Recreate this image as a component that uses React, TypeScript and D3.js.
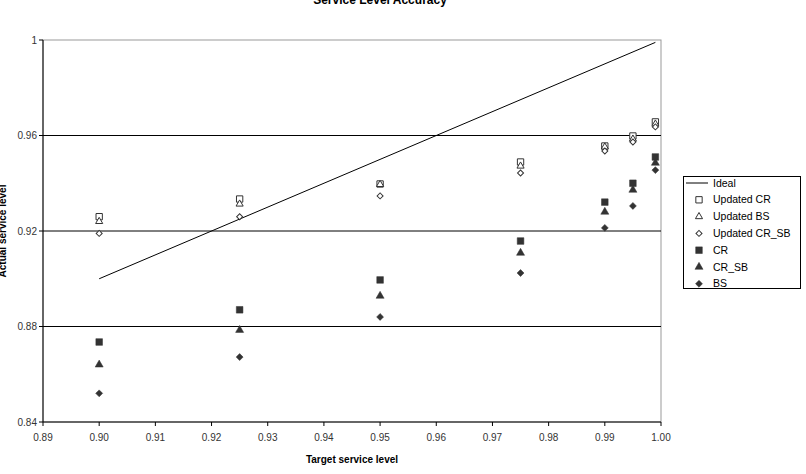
import React from 'react';
import * as d3 from 'd3';

// target service levels (x)
const targets = [0.9, 0.925, 0.95, 0.975, 0.99, 0.995, 0.999];

// actual service levels per method
const updatedCR = [0.926, 0.9334, 0.9397, 0.9489, 0.9556, 0.9598, 0.9657];
const updatedBS = [0.924, 0.9313, 0.9395, 0.9472, 0.9552, 0.9585, 0.9648];
const updatedCRSB = [0.919, 0.926, 0.9347, 0.9443, 0.9535, 0.9573, 0.9636];
const cr = [0.8735, 0.887, 0.8995, 0.9158, 0.9321, 0.94, 0.951];
const crSB = [0.864, 0.8785, 0.8928, 0.9108, 0.928, 0.9372, 0.9485];
const bs = [0.852, 0.8672, 0.884, 0.9024, 0.9213, 0.9305, 0.9455];

const idealX = [0.9, 0.999];

const xTicks = [0.89, 0.9, 0.91, 0.92, 0.93, 0.94, 0.95, 0.96, 0.97, 0.98, 0.99, 1.0];
const yTicks = [0.84, 0.88, 0.92, 0.96, 1];

// diamond = square turned 45 degrees
const series = [
  { name: 'Updated CR', values: updatedCR, shape: d3.symbolSquare, size: 40, rot: 0, filled: false },
  { name: 'Updated BS', values: updatedBS, shape: d3.symbolTriangle, size: 22, rot: 0, filled: false },
  { name: 'Updated CR_SB', values: updatedCRSB, shape: d3.symbolSquare, size: 18, rot: 45, filled: false },
  { name: 'CR', values: cr, shape: d3.symbolSquare, size: 44, rot: 0, filled: true },
  { name: 'CR_SB', values: crSB, shape: d3.symbolTriangle, size: 28, rot: 0, filled: true },
  { name: 'BS', values: bs, shape: d3.symbolSquare, size: 24, rot: 45, filled: true },
];

const W = 806;
const H = 474;
const left = 43;
const right = 661;
const top = 40;
const bottom = 422;
const font = '"Liberation Sans", Arial, sans-serif';
const ink = '#333';

export default function App() {
  const x = d3.scaleLinear().domain([0.89, 1.0]).range([left, right]);
  const y = d3.scaleLinear().domain([0.84, 1.0]).range([bottom, top]);
  const idealLine = d3.line<number>().x(d => x(d)).y(d => y(d));

  const marker = (s: typeof series[number]) => d3.symbol().type(s.shape).size(s.size)() as string;
  const legendRows = ['Ideal', ...series.map(s => s.name)];

  return (
    <svg width={W} height={H} style={{ position: 'absolute', left: 0, top: 0, background: '#fff' }}>
      <text x={380} y={4} textAnchor="middle" fontFamily={font} fontWeight="bold" fontSize={12} fill="#000">
        Service Level Accuracy
      </text>

      {/* plot frame */}
      <rect x={left} y={top} width={right - left} height={bottom - top} fill="none" stroke="#999" strokeWidth={1} />

      {/* gridlines */}
      {yTicks.filter(t => t > 0.84 && t < 1).map(t => (
        <line key={t} x1={left} x2={right} y1={y(t)} y2={y(t)} stroke="#000" strokeWidth={1} />
      ))}

      {/* axes */}
      <line x1={left} x2={left} y1={top} y2={bottom} stroke="#000" />
      <line x1={left} x2={right} y1={bottom} y2={bottom} stroke="#000" />
      {yTicks.map(t => (
        <g key={t}>
          <line x1={left - 4} x2={left} y1={y(t)} y2={y(t)} stroke="#000" />
          <text x={left - 6} y={y(t)} dy="0.35em" textAnchor="end" fontFamily={font} fontSize={10} fill={ink}>
            {String(t)}
          </text>
        </g>
      ))}
      {xTicks.map(t => (
        <g key={t}>
          <line x1={x(t)} x2={x(t)} y1={bottom} y2={bottom + 4} stroke="#000" />
          <text x={x(t)} y={bottom + 19} textAnchor="middle" fontFamily={font} fontSize={10} fill={ink}>
            {t.toFixed(2)}
          </text>
        </g>
      ))}

      <text x={352} y={463} textAnchor="middle" fontFamily={font} fontWeight="bold" fontSize={10} fill="#000">
        Target service level
      </text>
      <text transform={`translate(6,${(top + bottom) / 2}) rotate(-90)`} textAnchor="middle" fontFamily={font} fontWeight="bold" fontSize={10} fill="#000">
        Actual service level
      </text>

      {/* ideal line */}
      <path d={idealLine(idealX) as string} fill="none" stroke="#000" strokeWidth={1} />

      {/* markers */}
      {series.map(s => (
        <g key={s.name}>
          {s.values.map((v, i) => (
            <path
              key={i}
              d={marker(s)}
              transform={`translate(${x(targets[i])},${y(v)}) rotate(${s.rot})`}
              fill={s.filled ? ink : '#fff'}
              stroke={ink}
              strokeWidth={s.filled ? 0.5 : 1}
            />
          ))}
        </g>
      ))}

      {/* legend */}
      <rect x={683.5} y={176.5} width={117} height={112} fill="#fff" stroke="#000" />
      {legendRows.map((name, i) => {
        const ly = 183 + i * 16.8;
        const s = series[i - 1];
        return (
          <g key={name}>
            {i === 0 ? (
              <line x1={686} x2={708} y1={ly} y2={ly} stroke="#000" />
            ) : (
              <path
                d={marker(s)}
                transform={`translate(699,${ly}) rotate(${s.rot})`}
                fill={s.filled ? ink : '#fff'}
                stroke={ink}
                strokeWidth={s.filled ? 0.5 : 1}
              />
            )}
            <text x={713} y={ly} dy="0.35em" fontFamily={font} fontSize={10.5} fill="#000">
              {name}
            </text>
          </g>
        );
      })}
    </svg>
  );
}
